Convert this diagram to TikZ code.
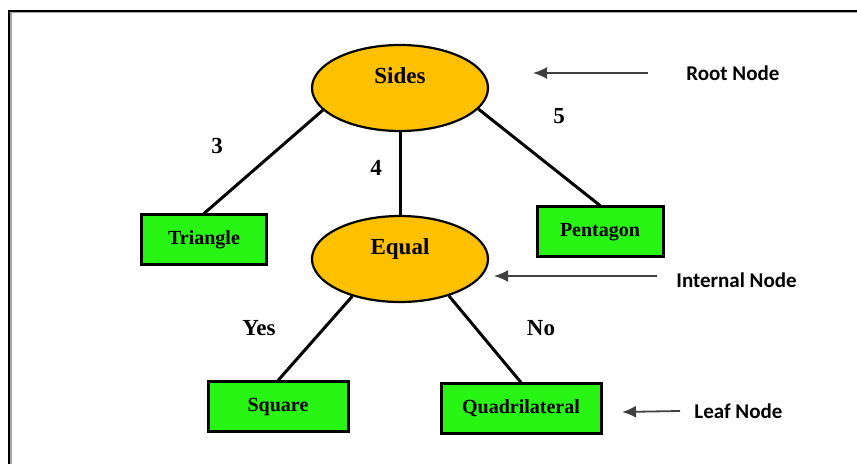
\documentclass[tikz,border=0pt]{standalone}
\usepackage{fontspec}
\setmainfont{Liberation Serif}
\newfontfamily\notefont{Carlito}
\usetikzlibrary{shapes.geometric,arrows.meta}
\definecolor{RootGold}{RGB}{255,192,0}
\definecolor{LeafGreen}{RGB}{40,245,20}
\tikzset{
  SplitStyle/.style = { ellipse, draw, line width=1.1pt, fill=RootGold, inner sep=0pt,
    minimum width=88pt, minimum height=43pt, text height=7.8pt, text depth=12.5pt,
    font=\fontsize{11.5}{13}\selectfont\bfseries },
  LeafStyle/.style = { rectangle, draw, line width=1.5pt, fill=LeafGreen, inner sep=0pt,
    minimum height=25pt, text height=6.8pt, text depth=2.4pt,
    font=\fontsize{10}{12}\selectfont\bfseries },
  EdgeStyle/.style = { line width=1.5pt },
  LabelStyle/.style = { inner sep=0pt, font=\fontsize{11.5}{13}\selectfont\bfseries },
  NoteStyle/.style = { anchor=west, inner sep=0pt, font=\notefont\fontsize{10.5}{12}\selectfont\bfseries },
  PointerStyle/.style = { line width=0.9pt, draw=black!75, -{Latex[length=7pt,width=6pt]} } }

\begin{document}
\begin{tikzpicture}[x=0.5pt,y=-0.5pt]
  \useasboundingbox (0,0) rectangle (857,464);
  % frame
  \draw[black!35, line width=1pt] (10.5,464) -- (10.5,12.5) -- (857,12.5);
  \draw[line width=1pt] (9,464) -- (9,11) -- (857,11);
  % tree
  \node[SplitStyle] (sides) at (400,88) {Sides};
  \node[SplitStyle] (equal) at (400,259) {Equal};
  \node[LeafStyle, minimum width=62.5pt] (tri) at (204,240) {Triangle};
  \node[LeafStyle, minimum width=63pt] (pent) at (600,232) {Pentagon};
  \node[LeafStyle, minimum width=70pt] (sq) at (278,407) {Square};
  \node[LeafStyle, minimum width=80pt] (quad) at (521,409) {Quadrilateral};
  \draw[EdgeStyle] (sides.196) -- (tri.north);
  \draw[EdgeStyle] (sides.south) -- (equal.north);
  \draw[EdgeStyle] (sides.-15) -- (pent.north);
  \draw[EdgeStyle] (equal.218) -- (sq.north);
  \draw[EdgeStyle] (equal.-37) -- (quad.north);
  \node[LabelStyle] (l3) at (217,146) {3};
  \node[LabelStyle] (l4) at (376,168) {4};
  \node[LabelStyle] (l5) at (559,116) {5};
  \node[LabelStyle] (yes) at (259,328) {Yes};
  \node[LabelStyle] (no) at (541,328) {No};
  % notes
  \node[NoteStyle] (rootnote) at (686,73) {Root Node};
  \node[NoteStyle] (innote) at (676,280) {Internal Node};
  \node[NoteStyle] (leafnote) at (694,411) {Leaf Node};
  \coordinate (roottip) at (533,73);
  \coordinate (intip) at (494,276);
  \coordinate (leaftip) at (622,412);
  \draw[PointerStyle] ([xshift=-19pt]rootnote.west) -- (roottip);
  \draw[PointerStyle] ([xshift=-9.5pt,yshift=2pt]innote.west) -- (intip);
  \draw[PointerStyle] ([xshift=-7pt]leafnote.west) -- (leaftip);
\end{tikzpicture}
\end{document}
